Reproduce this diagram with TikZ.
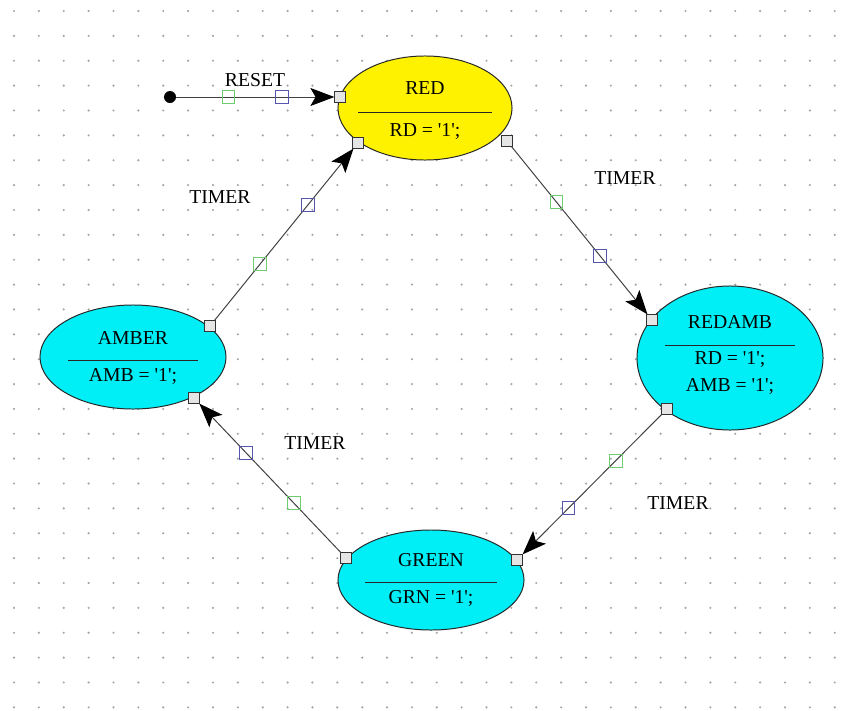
\documentclass[tikz,border=0pt]{standalone}
\usepackage{fontspec}
\setmainfont{Liberation Serif}
\usetikzlibrary{shapes.geometric}
\usetikzlibrary{arrows.meta}
\usetikzlibrary{calc}
\usetikzlibrary{positioning}

\definecolor{markgreen}{RGB}{110,205,110}
\definecolor{markblue}{RGB}{85,85,175}
\definecolor{dotgray}{RGB}{165,165,165}
\definecolor{stcyan}{RGB}{0,238,245}

\tikzset{
  state/.style={ellipse, draw=black!85, line width=0.7pt, inner sep=0pt},
  port/.style={rectangle, draw=black!80, fill=black!10, line width=0.6pt, minimum size=0.26cm, inner sep=0pt},
  gmark/.style={rectangle, draw=markgreen, line width=0.7pt, minimum size=0.32cm, inner sep=0pt},
  bmark/.style={rectangle, draw=markblue, line width=0.7pt, minimum size=0.32cm, inner sep=0pt},
  trans/.style={draw=black!75, line width=0.7pt, -{Stealth[length=0.6cm,width=0.45cm,inset=0.13cm,black]}},
  lbl/.style={font=\fontsize{14}{16}\selectfont, inner sep=0pt},
  divider/.style={draw=black!85, line width=0.7pt}
}

\begin{document}
\begin{tikzpicture}[x=0.025cm, y=-0.025cm]
        \useasboundingbox (0,0) rectangle (854,710);

        % Grid
        \foreach \i in {0,...,33}
          \foreach \j in {0,...,28}
            \fill[dotgray] (14+24.87*\i, 11+24.87*\j) circle (0.03cm);

        % States
        \node[state, fill=yellow, minimum width=4.35cm, minimum height=2.6cm] (red) at (425,108) {};
        \node[state, fill=stcyan, minimum width=4.65cm, minimum height=2.6cm] (amber) at (133,357) {};
        \node[state, fill=stcyan, minimum width=4.65cm, minimum height=3.6cm] (redamb) at (730,358) {};
        \node[state, fill=stcyan, minimum width=4.65cm, minimum height=2.5cm] (green) at (431,580) {};

        \node[lbl] (redname) at ($(red)+(0,-20)$) {RED};
        \draw[divider] ($(red)+(-67,4)$) -- ($(red)+(67,4)$);
        \node[lbl] (redact) at ($(red)+(0,24)$) {RD = \textquotesingle1\textquotesingle;};

        \node[lbl] (ambername) at ($(amber)+(0,-19)$) {AMBER};
        \draw[divider] ($(amber)+(-65,3)$) -- ($(amber)+(65,3)$);
        \node[lbl] (amberact) at ($(amber)+(0,20)$) {AMB = \textquotesingle1\textquotesingle;};

        \node[lbl] (redambname) at ($(redamb)+(0,-36)$) {REDAMB};
        \draw[divider] ($(redamb)+(-65,-13)$) -- ($(redamb)+(65,-13)$);
        \node[lbl] (redambact) at ($(redamb)+(0,2)$) {RD = \textquotesingle1\textquotesingle;};
        \node[lbl] (redambact2) at ($(redamb)+(0,29)$) {AMB = \textquotesingle1\textquotesingle;};

        \node[lbl] (greenname) at ($(green)+(0,-20)$) {GREEN};
        \draw[divider] ($(green)+(-66,2)$) -- ($(green)+(66,2)$);
        \node[lbl] (greenact) at ($(green)+(0,18)$) {GRN = \textquotesingle1\textquotesingle;};

        % Ports
        \node[port] (redW) at (340,97) {};
        \node[port] (redSW) at (358,143) {};
        \node[port] (redSE) at (507,141) {};
        \node[port] (redambNW) at (652,320) {};
        \node[port] (redambSW) at (667,409) {};
        \node[port] (greenE) at (517,560) {};
        \node[port] (greenW) at (346,558) {};
        \node[port] (amberSE) at (194,398) {};
        \node[port] (amberNE) at (210,326) {};

        % Reset
        \node[circle, fill=black, minimum size=0.3cm, inner sep=0pt] (init) at (170,97) {};
        \draw[trans] (init) -- (redW) node[gmark, pos=.33] {} node[bmark, pos=.67] {};
        \node[lbl] (reset) at (255,80) {RESET};

        % Transitions
        \draw[trans] (amberNE) -- (redSW) node[gmark, pos=.33] {} node[bmark, pos=.67] {};
        \draw[trans] (redSE) -- (redambNW) node[gmark, pos=.33] {} node[bmark, pos=.65] {};
        \draw[trans] (redambSW) -- (greenE) node[gmark, pos=.33] {} node[bmark, pos=.67] {};
        \draw[trans] (greenW) -- (amberSE) node[gmark, pos=.33] {} node[bmark, pos=.67] {};

        \node[lbl] (t1) at (220,197) {TIMER};
        \node[lbl] (t2) at (625,178) {TIMER};
        \node[lbl] (t3) at (678,503) {TIMER};
        \node[lbl] (t4) at (315,443) {TIMER};
      \end{tikzpicture}
\end{document}
